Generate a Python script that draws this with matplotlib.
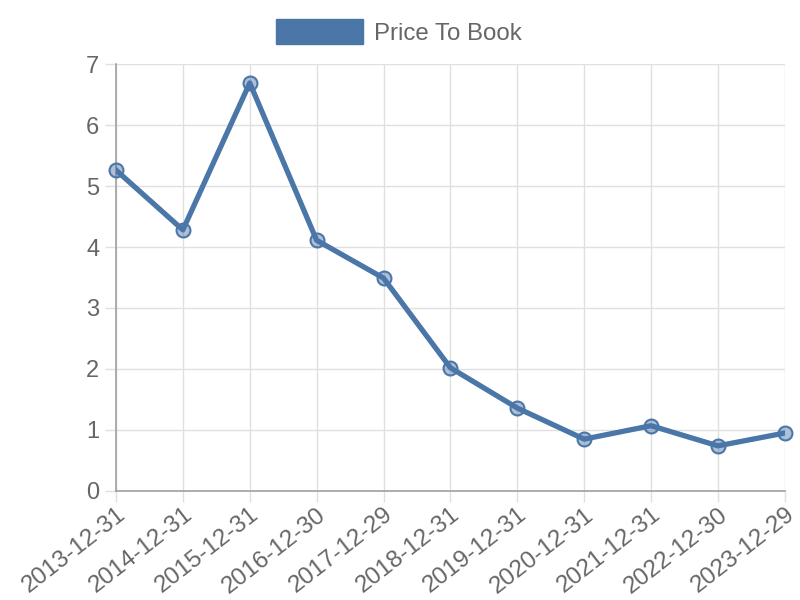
import matplotlib
matplotlib.use("Agg")
import matplotlib.pyplot as plt
from matplotlib.patches import Patch

dates = ["2013-12-31", "2014-12-31", "2015-12-31", "2016-12-30", "2017-12-29",
         "2018-12-31", "2019-12-31", "2020-12-31", "2021-12-31", "2022-12-30",
         "2023-12-29"]
price_to_book = [5.26, 4.28, 6.69, 4.11, 3.49, 2.02, 1.36, 0.85, 1.07, 0.74, 0.95]
y_ticks = [0, 1, 2, 3, 4, 5, 6, 7]

LINE = "#4a76a8"
TEXT = "#666666"
GRID = "#e0e0e0"

plt.rcParams["font.family"] = ["Liberation Sans", "DejaVu Sans"]

fig = plt.figure(figsize=(8, 6), dpi=100)
ax = fig.add_axes([0.145, 0.1817, 0.836, 0.7116])

xs = list(range(len(dates)))
ax.plot(xs, price_to_book, color=LINE, lw=3.8, zorder=3, solid_joinstyle="round")
ax.plot(xs, price_to_book, ls="none", marker="o", ms=10,
        mfc=(0.29, 0.46, 0.66, 0.45), mec=LINE, mew=1.5, zorder=4, clip_on=False)

ax.set_xlim(0, len(dates) - 1)
ax.set_ylim(0, 7)
ax.set_xticks(xs)
ax.set_xticklabels(dates, rotation=38, ha="right", rotation_mode="anchor",
                   fontsize=17.5)
ax.set_yticks(y_ticks)

ax.grid(True, color=GRID, lw=1)
ax.set_axisbelow(True)
for s in ["top", "right"]:
    ax.spines[s].set_visible(False)
for s in ["left", "bottom"]:
    ax.spines[s].set_color("#a0a0a0")
    ax.spines[s].set_linewidth(1.2)
ax.tick_params(axis="both", colors=GRID, labelcolor=TEXT, length=8, width=1)
ax.tick_params(axis="y", labelsize=17, pad=4)
ax.tick_params(axis="x", pad=1)

fig.legend(handles=[Patch(facecolor=LINE, edgecolor=LINE, label="Price To Book")],
           loc="center", bbox_to_anchor=(0.4985, 0.947), frameon=False,
           fontsize=17.3, labelcolor=TEXT, handlelength=3.6, handleheight=1.25,
           handletextpad=0.45)

fig.savefig("out.png", dpi=100)
